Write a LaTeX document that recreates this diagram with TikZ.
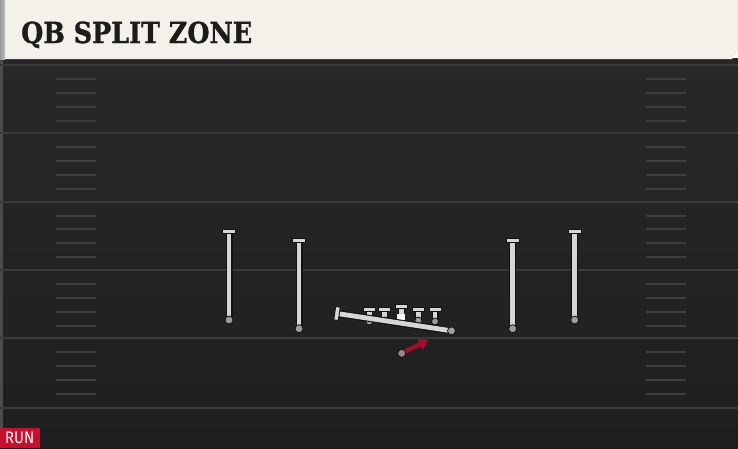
\documentclass[tikz,border=0pt]{standalone}
\usepackage{fontspec}
\usepackage{graphicx}
\usetikzlibrary{arrows.meta,calc}
\newfontfamily\titlefont{DejaVu Serif}[FakeBold=1.2]
\newfontfamily\badgefont{Fira Sans}
\definecolor{fieldtop}{HTML}{282828}
\definecolor{fieldbot}{HTML}{1F1F1F}
\definecolor{yardline}{HTML}{3A3A3A}
\definecolor{hashc}{HTML}{3E3E3E}
\definecolor{cream}{HTML}{F4F1EA}
\definecolor{titletext}{HTML}{1C1C1C}
\definecolor{plight}{HTML}{D6D6D6}
\definecolor{poutline}{HTML}{121212}
\definecolor{pdot}{HTML}{9C9C9C}
\definecolor{arrowred}{HTML}{A30E2C}
\definecolor{badgered}{HTML}{C8102E}
\tikzset{
  yard/.style={draw=yardline, line width=2.2pt},
  hashmark/.style={draw=hashc, line width=2pt},
  route/.style={draw=poutline, line width=1.1pt, double=plight, double distance=4.8pt},
  tbar/.style={rectangle, draw=poutline, line width=0.9pt, fill=plight, minimum width=13.5pt, minimum height=4.6pt, inner sep=0pt},
  pdotc/.style={circle, draw=poutline, line width=0.8pt, fill=pdot, minimum size=8pt, inner sep=0pt},
  centersq/.style={rectangle, fill=white, minimum width=8pt, minimum height=8pt, inner sep=0pt},
  runarrow/.style={draw=arrowred, line width=4.4pt, -{Triangle[length=9.5pt,width=12pt]}},
}
\begin{document}
\begin{tikzpicture}[x=1pt,y=-1pt]
\useasboundingbox (0,0) rectangle (738,448);
% field
\shade[top color=fieldtop, bottom color=fieldbot] (0,58) rectangle (738,448);
\fill[fill=black!85] (0,58) rectangle (738,63);
\fill[fill=black!70!white] (0,58) rectangle (2.5,448);
% yard lines
\foreach \y in {65,133.3,201.6,270,338,408}{
  \draw[yard] (0,\y) -- (738,\y);
}
% hash marks
\foreach \b in {65,133.3,201.6,270,338}{
  \foreach \o in {14,27.5,41.5,55.5}{
    \draw[hashmark] (56,\b+\o) -- (96,\b+\o);
    \draw[hashmark] (646,\b+\o) -- (686,\b+\o);
  }
}
% title bar
\fill[fill=cream] (5,0) -- (738,0) -- (738,51) -- (732,59) -- (5,59) -- cycle;
\shade[left color=black!40, right color=black!25] (0,0) rectangle (5,59);
\node[anchor=base west, inner sep=0pt, text=titletext, font=\titlefont\bfseries] (title) at (21,43) {\resizebox{231pt}{21.5pt}{QB SPLIT ZONE}};
% receivers
\coordinate (wr1s) at (229,320); \coordinate (wr1e) at (229,231.3);
\coordinate (wr2s) at (299,328.7); \coordinate (wr2e) at (299,240.5);
\coordinate (wr3s) at (512.7,328.7); \coordinate (wr3e) at (512.7,240.5);
\coordinate (wr4s) at (574.7,320); \coordinate (wr4e) at (574.7,231.3);
\foreach \p in {wr1,wr2,wr3,wr4}{
  \draw[route] (\p s) -- (\p e);
  \node[tbar] (\p t) at (\p e) {};
  \node[pdotc] (\p d) at (\p s) {};
}
% offensive line
\coordinate (ol1s) at (369.3,321.5); \coordinate (ol1e) at (369.3,309.5);
\coordinate (ol2s) at (384.5,320.5); \coordinate (ol2e) at (384.5,309.5);
\coordinate (ol4s) at (418.3,320.5); \coordinate (ol4e) at (418.3,309.5);
\coordinate (ol5s) at (435,321.5); \coordinate (ol5e) at (435,309.5);
\foreach \p in {ol1,ol2,ol4,ol5}{
  \draw[route] (\p s) -- (\p e);
  \node[tbar, minimum width=12pt] (\p t) at (\p e) {};
  \node[pdotc, minimum size=7pt] (\p d) at (\p s) {};
}
\coordinate (cs) at (401.3,317.5); \coordinate (ce) at (401.3,306.5);
\draw[route] (cs) -- (ce);
\node[tbar, minimum width=12pt] (ct) at (ce) {};
\node[centersq] (csq) at (cs) {};
% H-back split block
\coordinate (hbs) at (451.5,330.8); \coordinate (hbe) at (337,313.5);
\draw[route] (hbs) -- (hbe);
\node[tbar, minimum width=13.5pt, rotate=81.5] (hbt) at (hbe) {};
\node[pdotc] (hbd) at (hbs) {};
% QB run
\coordinate (qbs) at (401.7,353.3); \coordinate (qbe) at (428.5,339.8);
\draw[runarrow] (qbs) -- (qbe);
\node[pdotc, fill=pdot!85!arrowred] (qbd) at (qbs) {};
% badge
\fill[fill=badgered] (0,428) rectangle (40,448);
\node[anchor=base west, inner sep=0pt, text=white, font=\badgefont] (run) at (5,443.5) {\resizebox{29pt}{11.5pt}{RUN}};
\end{tikzpicture}
\end{document}
